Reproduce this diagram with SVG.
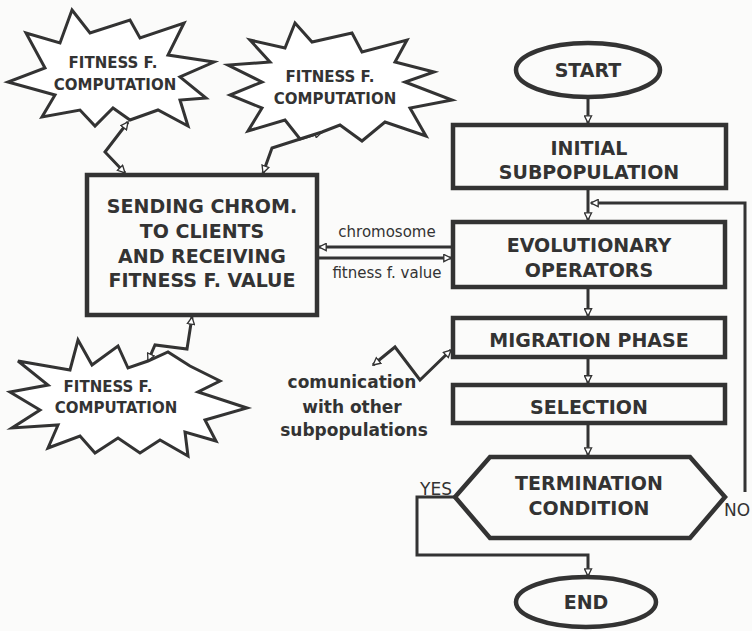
<svg xmlns="http://www.w3.org/2000/svg" width="752" height="631" viewBox="0 0 752 631">
<style>
.bg{fill:#fbfbfa}
.box{fill:none;stroke:#333333;stroke-width:4.5}
.star{fill:#ffffff;stroke:#333333;stroke-width:3;stroke-linejoin:miter}
.ln{fill:none;stroke:#333333;stroke-width:3}
.tb{font-family:"DejaVu Sans",Verdana,sans-serif;font-weight:bold;fill:#333333;text-anchor:middle}
.t19{font-size:19px}
.t15{font-size:15px}
.t17{font-size:17px}
.tr{font-family:"DejaVu Sans",Verdana,sans-serif;fill:#333333}
</style>
<defs>
<marker id="ah" viewBox="0 0 10 10" refX="9" refY="5" markerWidth="9" markerHeight="9" markerUnits="userSpaceOnUse" orient="auto-start-reverse">
<path d="M1,1 L9,5 L1,9 z" fill="#ffffff" stroke="#333333" stroke-width="1.5"/>
</marker>
</defs>
<rect class="bg" x="0" y="0" width="752" height="631"/>

<g id="connectors">
<line class="ln" x1="588" y1="97" x2="588" y2="123" marker-end="url(#ah)"/>
<line class="ln" x1="588" y1="188" x2="588" y2="220" marker-end="url(#ah)"/>
<polyline class="ln" points="745,492 745,203 591,203" marker-end="url(#ah)"/>
<line class="ln" x1="588" y1="287" x2="588" y2="316" marker-end="url(#ah)"/>
<line class="ln" x1="588" y1="357" x2="588" y2="383" marker-end="url(#ah)"/>
<line class="ln" x1="588" y1="423" x2="588" y2="455" marker-end="url(#ah)"/>
<polyline class="ln" points="455,497 417,497 417,555 588,555 588,576" marker-end="url(#ah)"/>
<line class="ln" x1="453" y1="247" x2="319" y2="247" marker-end="url(#ah)"/>
<line class="ln" x1="317" y1="258" x2="451" y2="258" marker-end="url(#ah)"/>
<polyline class="ln" points="128,122 105,152 125,173" marker-start="url(#ah)" marker-end="url(#ah)"/>
<polyline class="ln" points="322,132 272,148 263,173" marker-start="url(#ah)" marker-end="url(#ah)"/>
<polyline class="ln" points="192,317 187,349 155,345 148,361" marker-start="url(#ah)" marker-end="url(#ah)"/>
<polyline class="ln" points="373,365 395,347 420,380 451,350" marker-start="url(#ah)" marker-end="url(#ah)"/>
</g>

<g id="star1">
<polygon class="star" points="72,10 90,33 130,20 140,38 184,23 168,55 214,62 180,77 206,98 180,100 188,126 158,110 130,120 113,108 95,126 80,110 42,117 55,95 8,82 45,68 26,33 60,43"/>
<text class="tb t15" x="113" y="68">FITNESS F.</text>
<text class="tb t15" x="115" y="90">COMPUTATION</text>
</g>

<g id="star2">
<polygon class="star" points="295,23 312,42 352,33 362,52 407,40 395,62 434,72 405,82 452,100 410,108 426,136 385,122 362,141 340,125 322,132 300,139 285,120 248,131 262,108 230,95 262,82 228,65 270,62 250,40 285,48"/>
<text class="tb t15" x="330" y="82">FITNESS F.</text>
<text class="tb t15" x="335" y="104">COMPUTATION</text>
</g>

<g id="star3">
<polygon class="star" points="78,340 92,365 118,346 128,368 148,361 168,352 190,366 220,381 198,392 247,408 205,420 216,441 185,432 188,456 160,440 140,453 118,438 95,453 80,436 48,448 58,425 12,428 40,410 10,392 48,385 18,361 70,370"/>
<text class="tb t15" x="108" y="392">FITNESS F.</text>
<text class="tb t15" x="116" y="413">COMPUTATION</text>
</g>

<g id="sending">
<rect class="box" x="87" y="175" width="230" height="140"/>
<text class="tb t19" x="202" y="213">SENDING CHROM.</text>
<text class="tb t19" x="202" y="238">TO CLIENTS</text>
<text class="tb t19" x="202" y="263">AND RECEIVING</text>
<text class="tb t19" x="202" y="287">FITNESS F. VALUE</text>
</g>

<g id="labels">
<text class="tr" x="387" y="237" font-size="15" text-anchor="middle">chromosome</text>
<text class="tr" x="387" y="278" font-size="15" text-anchor="middle">fitness f. value</text>
</g>

<g id="communication">
<text class="tb t17" x="352" y="388">comunication</text>
<text class="tb t17" x="352" y="413">with other</text>
<text class="tb t17" x="354" y="436">subpopulations</text>
</g>

<g id="start">
<ellipse class="box" cx="588" cy="70" rx="72" ry="27"/>
<text class="tb t19" x="588" y="77">START</text>
</g>

<g id="initial">
<rect class="box" x="453" y="125" width="273" height="63"/>
<text class="tb t19" x="589" y="155">INITIAL</text>
<text class="tb t19" x="589" y="179">SUBPOPULATION</text>
</g>

<g id="evolutionary">
<rect class="box" x="453" y="222" width="272" height="65"/>
<text class="tb t19" x="589" y="252">EVOLUTIONARY</text>
<text class="tb t19" x="589" y="277">OPERATORS</text>
</g>

<g id="migration">
<rect class="box" x="453" y="318" width="272" height="39"/>
<text class="tb t19" x="589" y="347">MIGRATION PHASE</text>
</g>

<g id="selection">
<rect class="box" x="453" y="385" width="272" height="38"/>
<text class="tb t19" x="589" y="414">SELECTION</text>
</g>

<g id="termination">
<polygon class="box" points="490,457 690,457 725,497 690,538 490,538 455,497"/>
<text class="tb t19" x="589" y="490">TERMINATION</text>
<text class="tb t19" x="589" y="515">CONDITION</text>
<text class="tr" x="420" y="495" font-size="17">YES</text>
<text class="tr" x="724" y="516" font-size="17">NO</text>
</g>

<g id="end">
<ellipse class="box" cx="586" cy="602" rx="70" ry="25"/>
<text class="tb t19" x="586" y="609">END</text>
</g>
</svg>
